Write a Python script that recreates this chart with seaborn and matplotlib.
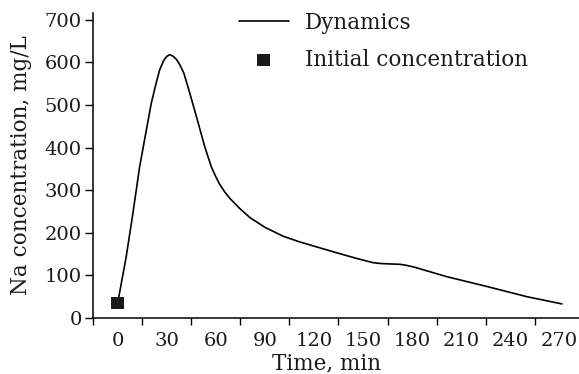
import numpy as np
import pandas as pd
import matplotlib
matplotlib.use("Agg")
import matplotlib.pyplot as plt
from matplotlib.ticker import MultipleLocator, FixedLocator
import seaborn as sns

# values
time_min = [0, 0.8, 5.3, 9.4, 13.5, 16.5, 20.6, 23.5, 25.7, 28, 30, 31.8, 33.8,
            36, 38, 40.5, 43, 48.2, 53.3, 57.3, 60, 62.4, 65.5, 68.6, 74.7,
            80.8, 90, 101.2, 111, 121.6, 134, 146, 152, 156, 160.4, 166, 172.7,
            176, 180.8, 201.2, 225.7, 250.2, 271.6]
na_conc = [35, 50, 144, 246, 355, 418, 504, 550, 582, 603, 614, 618, 615,
           607, 595, 575, 543, 473, 402, 355, 332, 314, 296, 281, 257,
           236, 213, 192, 179, 167, 153, 140, 134, 130, 128, 127, 126,
           124, 120, 97, 74, 50, 33]
init_time = [0]
init_conc = [35]

dyn = pd.DataFrame({"Time, min": time_min, "Na": na_conc})
init = pd.DataFrame({"Time, min": init_time, "Na": init_conc})

sns.set_theme(style="ticks")
plt.rcParams["font.family"] = ["DejaVu Serif"]
plt.rcParams["text.color"] = "#1a1a1a"
plt.rcParams["xtick.labelcolor"] = "#1a1a1a"
plt.rcParams["ytick.labelcolor"] = "#1a1a1a"
plt.rcParams["axes.labelcolor"] = "#1a1a1a"

fs = 14
fs_big = 15.5
fig = plt.figure(figsize=(5.79, 3.74), dpi=100)
ax = fig.add_axes([93 / 579, 1 - 318 / 374, 1 - 93 / 579, (318 - 13) / 374])

sns.lineplot(data=dyn, x="Time, min", y="Na", color="black", linewidth=1.2,
             label="Dynamics", ax=ax, sort=False)
sns.scatterplot(data=init, x="Time, min", y="Na", color="#1a1a1a", marker="s",
                s=85, edgecolor="none", label="Initial concentration", ax=ax,
                zorder=3)

ax.set_xlim(-15, 282)
ax.set_ylim(0, 716)
ax.xaxis.set_major_locator(FixedLocator(np.arange(0, 271, 30)))
ax.xaxis.set_minor_locator(FixedLocator(np.arange(-15, 256, 30)))
ax.yaxis.set_major_locator(MultipleLocator(100))
ax.tick_params(axis="x", which="major", length=0, pad=10, labelsize=fs)
ax.tick_params(axis="x", which="minor", length=5, width=1, direction="out", color="black")
ax.tick_params(axis="y", which="major", length=6, width=1, direction="out",
               labelsize=fs, pad=2, color="black")
for s in ["left", "bottom"]:
    ax.spines[s].set_linewidth(1.1)
    ax.spines[s].set_color("black")
sns.despine(ax=ax)

ax.set_xlabel("Time, min", fontsize=fs_big)
ax.set_ylabel("Na concentration, mg/L", fontsize=fs_big)
ax.xaxis.set_label_coords((327 - 93) / 486, -(374 - 318) / 305, transform=ax.transAxes)
ax.xaxis.label.set_va("bottom")
ax.yaxis.set_label_coords(-(93 - 10) / 486, 0.5, transform=ax.transAxes)
ax.yaxis.label.set_va("top")

ax.legend(loc="upper left", bbox_to_anchor=(230 / 579, 1 - 3 / 374),
          bbox_transform=fig.transFigure, frameon=False, fontsize=fs_big,
          handlelength=2.33, handletextpad=0.74, labelspacing=0.7,
          borderaxespad=0)

fig.savefig("out.png", dpi=100)
